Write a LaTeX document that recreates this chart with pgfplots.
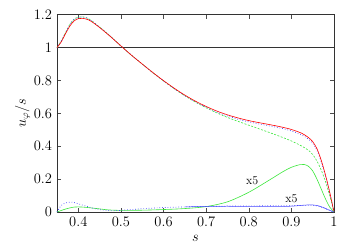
\documentclass[border=0pt]{standalone}
\usepackage{pgfplots}
\pgfplotsset{compat=1.18}
\definecolor{gred}{RGB}{255,0,0}
\definecolor{ggreen}{RGB}{60,230,60}
\definecolor{gblue}{RGB}{70,70,255}
\begin{document}
\fontsize{14.5}{17}\selectfont
\begin{tikzpicture}
\useasboundingbox (-57pt,-35pt) rectangle (297pt,212pt);
\begin{axis}[
  at={(0,0)}, anchor=south west,
  scale only axis, width=277pt, height=197.3pt,
  xmin=0.35, xmax=1, ymin=0, ymax=1.2,
  xtick={0.4,0.5,0.6,0.7,0.8,0.9,1},
  ytick={0,0.2,0.4,0.6,0.8,1,1.2},
  xticklabels={0.4,0.5,0.6,0.7,0.8,0.9,1},
  yticklabels={0,0.2,0.4,0.6,0.8,1,1.2},
  tick align=inside, major tick length=4pt,
  tick style={black!70, line width=0.5pt},
  axis line style={black!80, line width=0.6pt},
  ticklabel style={font=\fontsize{14.5}{17}\selectfont},
  xlabel={$s$}, ylabel={$u_\varphi/s$},
  xlabel style={at={(axis description cs:0.5,0)}, anchor=north, yshift=-18pt},
  ylabel style={at={(axis description cs:0,0.5)}, anchor=south, xshift=0pt, yshift=22pt},
  label style={font=\fontsize{14.5}{17}\selectfont},
  clip=false,
]
\addplot[black!80, line width=0.5pt] coordinates {(0.35,1) (1,1)};
% green dashed main
\addplot[ggreen, line width=0.6pt, dash pattern=on 2pt off 1.5pt, smooth] coordinates {
(0.35,1.0) (0.36,1.04) (0.37,1.09) (0.38,1.14) (0.39,1.172) (0.40,1.185) (0.41,1.187) (0.42,1.18) (0.43,1.165) (0.45,1.125) (0.475,1.07) (0.50,1.01) (0.525,0.953) (0.55,0.90) (0.575,0.847) (0.60,0.797) (0.625,0.75) (0.65,0.707) (0.675,0.668) (0.70,0.634) (0.725,0.603) (0.75,0.575) (0.775,0.551) (0.80,0.528) (0.825,0.505) (0.85,0.482) (0.875,0.458) (0.90,0.432) (0.925,0.400) (0.94,0.375) (0.95,0.35) (0.96,0.31) (0.97,0.255) (0.98,0.185) (0.99,0.10) (1.0,0.0)};
% blue dotted main
\addplot[gblue, line width=0.7pt, dotted, smooth] coordinates {
(0.35,1.0) (0.36,1.04) (0.37,1.09) (0.38,1.14) (0.39,1.172) (0.40,1.185) (0.41,1.187) (0.42,1.18) (0.43,1.165) (0.45,1.125) (0.475,1.07) (0.50,1.01) (0.525,0.953) (0.55,0.90) (0.575,0.847) (0.60,0.797) (0.625,0.75) (0.65,0.707) (0.675,0.670) (0.70,0.637) (0.725,0.608) (0.75,0.584) (0.775,0.564) (0.80,0.548) (0.825,0.535) (0.85,0.523) (0.875,0.51) (0.90,0.493) (0.925,0.468) (0.94,0.443) (0.95,0.418) (0.96,0.375) (0.97,0.305) (0.98,0.218) (0.99,0.115) (1.0,0.0)};
% red solid main
\addplot[gred, line width=0.6pt, smooth] coordinates {
(0.35,1.0) (0.36,1.035) (0.37,1.085) (0.38,1.13) (0.39,1.162) (0.40,1.176) (0.41,1.178) (0.42,1.172) (0.43,1.16) (0.45,1.122) (0.475,1.068) (0.50,1.01) (0.525,0.953) (0.55,0.90) (0.575,0.848) (0.60,0.799) (0.625,0.753) (0.65,0.711) (0.675,0.674) (0.70,0.642) (0.725,0.614) (0.75,0.591) (0.775,0.572) (0.80,0.556) (0.825,0.543) (0.85,0.531) (0.875,0.518) (0.90,0.502) (0.925,0.478) (0.94,0.453) (0.95,0.428) (0.96,0.385) (0.97,0.315) (0.98,0.225) (0.99,0.12) (1.0,0.0)};
% green solid x5
\addplot[ggreen, line width=0.6pt, smooth] coordinates {
(0.35,0.0) (0.37,0.018) (0.39,0.03) (0.41,0.03) (0.44,0.022) (0.47,0.013) (0.50,0.01) (0.55,0.011) (0.60,0.015) (0.65,0.021) (0.70,0.033) (0.75,0.062) (0.80,0.12) (0.85,0.197) (0.88,0.245) (0.90,0.272) (0.92,0.288) (0.93,0.289) (0.94,0.278) (0.95,0.25) (0.96,0.2) (0.97,0.14) (0.98,0.08) (0.99,0.03) (1.0,0.0)};
% blue dotted low
\addplot[gblue, line width=0.7pt, dotted, smooth] coordinates {
(0.35,0.0) (0.36,0.04) (0.37,0.055) (0.38,0.06) (0.39,0.058) (0.40,0.05) (0.42,0.034) (0.44,0.02) (0.46,0.011) (0.48,0.008) (0.50,0.01) (0.55,0.02) (0.60,0.027) (0.65,0.031) (0.70,0.034) (0.75,0.036) (0.80,0.037) (0.85,0.038) (0.90,0.039) (0.95,0.04) (0.97,0.03) (0.99,0.01) (1.0,0.0)};
% blue solid x5
\addplot[gblue, line width=0.5pt, smooth] coordinates {
(0.65,0.031) (0.70,0.034) (0.75,0.035) (0.80,0.034) (0.85,0.033) (0.88,0.033) (0.91,0.037) (0.93,0.042) (0.95,0.043) (0.96,0.04) (0.97,0.032) (0.98,0.022) (0.99,0.01) (1.0,0.0)};
\node[font=\fontsize{12}{14}\selectfont] at (axis cs:0.808,0.19) {x5};
\node[font=\fontsize{12}{14}\selectfont] at (axis cs:0.9,0.08) {x5};
\end{axis}
\end{tikzpicture}
\end{document}
